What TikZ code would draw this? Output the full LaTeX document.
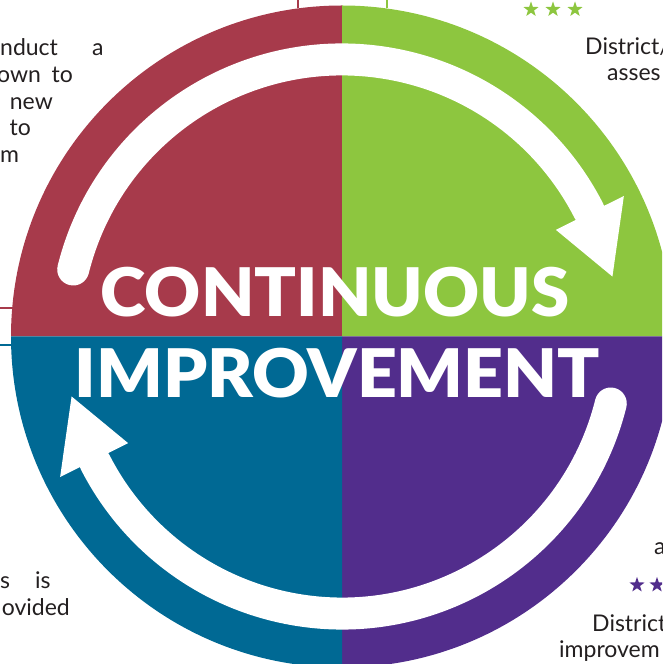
\documentclass[tikz,border=0pt]{standalone}
\usepackage{fontspec}
\setmainfont{Lato}
\newfontfamily\heavyfont{Lato Black}
\usetikzlibrary{shapes.geometric}
\definecolor{qred}{HTML}{A73A4B}
\definecolor{qgreen}{HTML}{8DC63F}
\definecolor{qblue}{HTML}{006994}
\definecolor{qpurple}{HTML}{522D8C}
\definecolor{ink}{HTML}{231F20}
\begin{document}
\begin{tikzpicture}[x=1pt,y=1pt,
  body/.style={font=\fontsize{23}{27}\selectfont, text=ink, inner sep=0pt},
  title/.style={font=\fontsize{67}{70}\heavyfont, text=white, inner sep=0pt},
  shaft/.style={white, line width=32pt, line cap=round},
  head/.style={fill=white, draw=none},
  starmark/.style={star, star points=5, star point ratio=2.5, minimum size=16pt, inner sep=0pt, draw=none}]
\useasboundingbox (0,0) rectangle (662,664);
\clip (0,0) rectangle (662,664);
\coordinate (C) at (342,327.5);

% four quadrants of the disc
\fill[qred]    (C) -- ++(180:331) arc[start angle=180, end angle=90,  radius=331] -- cycle;
\fill[qgreen]  (C) -- ++(90:331)  arc[start angle=90,  end angle=0,   radius=331] -- cycle;
\fill[qpurple] (C) -- ++(0:331)   arc[start angle=0,   end angle=-90, radius=331] -- cycle;
\fill[qblue]   (C) -- ++(-90:331) arc[start angle=-90, end angle=-180,radius=331] -- cycle;

% leader lines leaving the disc
\coordinate (lr0) at (298,664); \coordinate (lr1) at (298,655.5);
\coordinate (lg0) at (387,664); \coordinate (lg1) at (387,655.5);
\coordinate (hr0) at (0,356);   \coordinate (hr1) at (12.5,356);
\coordinate (hb0) at (0,319);   \coordinate (hb1) at (12.5,319);
\draw[qred, line width=1.5pt] (lr0) -- (lr1);
\draw[qgreen, line width=1.5pt] (lg0) -- (lg1);
\draw[qred, line width=1.5pt] (hr0) -- (hr1);
\draw[qblue, line width=1.5pt] (hb0) -- (hb1);

% circular arrows
\draw[shaft] ([shift={(166:277)}]C) arc[start angle=166, end angle=27, radius=277];
\fill[head] ([shift={(26.5:239)}]C) -- ([shift={(26.5:315)}]C) -- ([shift={(12.5:277)}]C) -- cycle;
\draw[shaft] ([shift={(-14:277)}]C) arc[start angle=-14, end angle=-153, radius=277];
\fill[head] ([shift={(206.5:239)}]C) -- ([shift={(206.5:315)}]C) -- ([shift={(192.5:277)}]C) -- cycle;

% title
\node[title, anchor=base] (t1) at (335,347) {\scalebox{1.03}[1]{CONTINUOUS}};
\node[title, anchor=base] (t2) at (337.5,266) {\scalebox{1.04}[1]{IMPROVEMENT}};

% side texts
\node[body, anchor=base west] (a1) at (0,608) {nduct};
\node[body, anchor=base west] (a2) at (92,608) {a};
\node[body, anchor=base west] (a3) at (-3,581) {own};
\node[body, anchor=base east] (a3b) at (73,581) {to};
\node[body, anchor=base east] (a4) at (53,554) {new};
\node[body, anchor=base east] (a5) at (31,528) {to};
\node[body, anchor=base west] (a6) at (0,501) {m};

\node[starmark, fill=qgreen] (s1) at (531,654.5) {};
\node[starmark, fill=qgreen] (s2) at (553,654.5) {};
\node[starmark, fill=qgreen] (s3) at (575,654.5) {};
\node[body, anchor=base west] (b1) at (585,609) {District/};
\node[body, anchor=base west] (b2) at (607,583) {asses};

\node[body, anchor=base west] (c1) at (0,75) {s};
\node[body, anchor=base west] (c2) at (35,75) {is};
\node[body, anchor=base east] (c3) at (70,48) {ovided};

\node[body, anchor=base west] (d1) at (654,109) {a};
\node[starmark, fill=qpurple] (s4) at (637,79) {};
\node[starmark, fill=qpurple] (s5) at (657,79) {};
\node[body, anchor=base west] (d2) at (592,32) {District};
\node[body, anchor=base west] (d3) at (559,6) {improvem};
\end{tikzpicture}
\end{document}
